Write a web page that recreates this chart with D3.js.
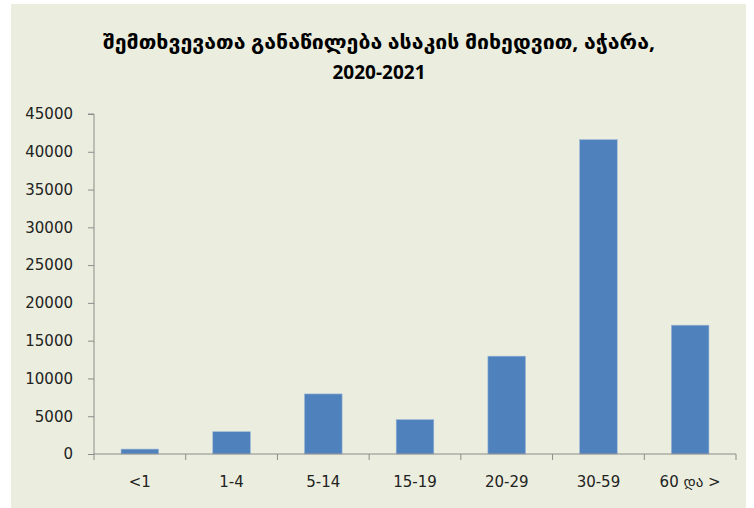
<!DOCTYPE html>
<html><head><meta charset="utf-8">
<script src="https://cdn.jsdelivr.net/npm/d3@7"></script>
<style>body{margin:0;background:#fff}svg{display:block}</style>
</head><body>
<svg id="c" width="754" height="508"></svg>
<script>
const categories = ["<1","1-4","5-14","15-19","20-29","30-59","60 და >"];
const values = [650, 2950, 7950, 4550, 12950, 41600, 17050];
const yTicks = [0,5000,10000,15000,20000,25000,30000,35000,40000,45000];
const titleLines = ["შემთხვევათა განაწილება ასაკის მიხედვით, აჭარა,", "2020-2021"];

const svg = d3.select("#c");
svg.append("rect").attr("x",11).attr("y",4).attr("width",735).attr("height",510).attr("fill","#EBEEDE");

const x0 = 94, x1 = 736, yTop = 114, yBot = 454;
const x = d3.scaleBand().domain(categories).range([x0,x1]).paddingInner(0.59).paddingOuter(0.295);
const xc = d3.scaleBand().domain(categories).range([x0,x1]).padding(0);
const y = d3.scaleLinear().domain([0,45000]).range([yBot,yTop]);

// bars
svg.append("g").selectAll("rect").data(values).join("rect")
  .attr("x",(d,i)=>x(categories[i]))
  .attr("y",d=>y(d))
  .attr("width",x.bandwidth())
  .attr("height",d=>y(0)-y(d))
  .attr("fill","#4F81BD")
  .attr("stroke","#9DB7D9").attr("stroke-width",0.6);

const axisColor = "#8C8C8C";
const labFont = "'DejaVu Sans', Verdana, sans-serif";
// y axis
const gy = svg.append("g").attr("transform",`translate(${x0},0)`)
  .call(d3.axisLeft(y).tickValues(yTicks).tickFormat(d3.format("d")).tickSize(6).tickPadding(15));
gy.select(".domain").attr("stroke",axisColor).attr("d",`M-6,${yTop}H0V${yBot}`);
gy.selectAll(".tick line").attr("stroke",axisColor);
gy.selectAll(".tick text").attr("fill","#222").style("font-family",labFont).style("font-size","15px");

// x axis
const gx = svg.append("g").attr("transform",`translate(0,${yBot})`);
gx.append("line").attr("x1",x0).attr("x2",x1).attr("y1",0).attr("y2",0).attr("stroke",axisColor);
const bounds = categories.map(c=>xc(c)).concat([x1]);
gx.selectAll("line.tk").data(bounds).join("line").attr("class","tk")
  .attr("x1",d=>d).attr("x2",d=>d).attr("y1",0).attr("y2",6).attr("stroke",axisColor);
gx.selectAll("text").data(categories).join("text")
  .attr("x",d=>xc(d)+xc.bandwidth()/2).attr("y",33)
  .attr("text-anchor","middle").attr("fill","#222")
  .style("font-family",labFont).style("font-size","15px")
  .text(d=>d);

// title
const tw = [552, null];
svg.append("g").selectAll("text").data(titleLines).join("text")
  .attr("x",379).attr("y",(d,i)=>49+i*30)
  .attr("text-anchor","middle").attr("fill","#000")
  .each(function(d,i){ if (tw[i]) d3.select(this).attr("textLength",tw[i]).attr("lengthAdjust","spacingAndGlyphs"); })
  .style("font-family","'Open Sans','DejaVu Sans', sans-serif").style("font-weight","bold").style("font-size","19px")
  .text(d=>d);
</script>
</body></html>
